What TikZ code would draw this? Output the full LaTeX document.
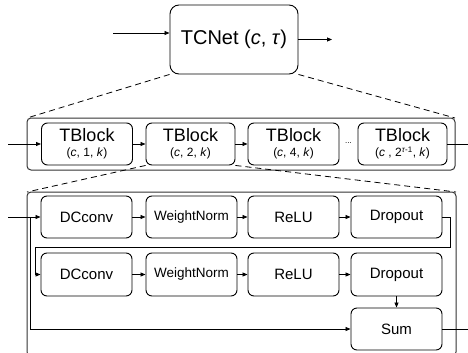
\documentclass[tikz,border=0pt]{standalone}
\usepackage{fontspec}
\setmainfont{Liberation Sans}
\usetikzlibrary{arrows.meta}
\tikzset{
  blk/.style={draw, line width=0.9pt, rounded corners=6pt, minimum width=91pt, minimum height=42pt, inner sep=0pt, align=center},
  outer/.style={draw=black!80, line width=1pt, rounded corners=4pt},
  conn/.style={line width=0.8pt},
  arr/.style={conn, -{Triangle[length=5pt,width=4pt]}},
  dsh/.style={line width=0.8pt, dash pattern=on 6pt off 4pt},
  f15/.style={font=\fontsize{15}{17}\selectfont},
}
\newcommand{\tbl}[1]{{\fontsize{18}{20}\selectfont TBlock}\\[3pt]{\fontsize{12}{14}\selectfont #1}}
\begin{document}
\begin{tikzpicture}[x=1pt,y=-1pt]
\useasboundingbox (0,0) rectangle (468,353);
\clip (0,0) rectangle (468,353);
% top
\node[blk, minimum width=128pt, minimum height=69pt, rounded corners=9pt, font=\fontsize{20}{22}\selectfont] (tc) at (234,39.5) {TCNet (\textit{c}, \textit{τ})};
\coordinate (in0) at (113,33);
\coordinate (out0) at (332,39.5);
\draw[arr] (in0) -- (in0 -| tc.west);
\draw[arr] (tc.east) -- (out0);
% outer box 2
\draw[outer] (27,118) rectangle (455,170);
\coordinate (ob2nw) at (27,118);
\coordinate (ob2ne) at (455,118);
\draw[dsh] (tc.south west) -- (ob2nw);
\draw[dsh] (tc.south east) -- (ob2ne);
\node[blk] (tb1) at (87,144) {\tbl{(\textit{c}, 1, \textit{k})}};
\node[blk, minimum width=89pt] (tb2) at (190.5,144) {\tbl{(\textit{c}, 2, \textit{k})}};
\node[blk] (tb3) at (293.5,144) {\tbl{(\textit{c}, 4, \textit{k})}};
\node[blk, minimum width=89pt] (tb4) at (402.5,144) {\tbl{(\textit{c} , 2\textsuperscript{\textit{τ}-1}, \textit{k})}};
\node[font=\fontsize{8}{8}\selectfont, inner sep=0pt] (dots) at (348.5,143) {...};
\coordinate (in1) at (8,144);
\coordinate (out1) at (468,144);
\draw[arr] (in1) -- (tb1.west);
\draw[arr] (tb1) -- (tb2);
\draw[arr] (tb2) -- (tb3);
\draw[conn] (tb4.east) -- (out1);
% outer box 3
\draw[outer] (27,192) rectangle (456,356);
\coordinate (ob3nw) at (27,192);
\coordinate (ob3ne) at (456,192);
\draw[dsh] (tb2.south west) -- (ob3nw);
\draw[dsh] (tb2.south east) -- (ob3ne);
% row 1
\node[blk, f15] (dc1) at (86.5,217) {DCconv};
\node[blk, font=\fontsize{13.5}{15}\selectfont] (wn1) at (191.5,217) {WeightNorm};
\node[blk, f15] (re1) at (293.5,217) {ReLU};
\node[blk, f15] (do1) at (396.5,217) {Dropout};
% row 2
\node[blk, f15, minimum height=43pt] (dc2) at (86.5,274.5) {DCconv};
\node[blk, minimum height=43pt, font=\fontsize{13.5}{15}\selectfont] (wn2) at (191.5,274.5) {WeightNorm};
\node[blk, f15, minimum height=43pt] (re2) at (293.5,274.5) {ReLU};
\node[blk, f15, minimum height=43pt] (do2) at (396.5,274.5) {Dropout};
\node[blk, f15] (sum) at (396.5,329) {Sum};
% connectors
\coordinate (in2) at (8,217);
\coordinate (sk) at (30,217);
\draw[arr] (in2) -- (dc1.west);
\draw[arr] (sk) |- (sum.west);
\draw[arr] (dc1) -- (wn1);
\draw[arr] (wn1) -- (re1);
\draw[arr] (re1) -- (do1);
\coordinate (r1) at (450,247);
\coordinate (l1) at (35,247);
\draw[arr] (do1.east) -| (r1) -- (l1) |- (dc2.west);
\draw[arr] (dc2) -- (wn2);
\draw[arr] (wn2) -- (re2);
\draw[arr] (re2) -- (do2);
\draw[arr] (do2) -- (sum);
\coordinate (out2) at (474,329);
\draw[arr] (sum.east) -- (out2);
\end{tikzpicture}
\end{document}
